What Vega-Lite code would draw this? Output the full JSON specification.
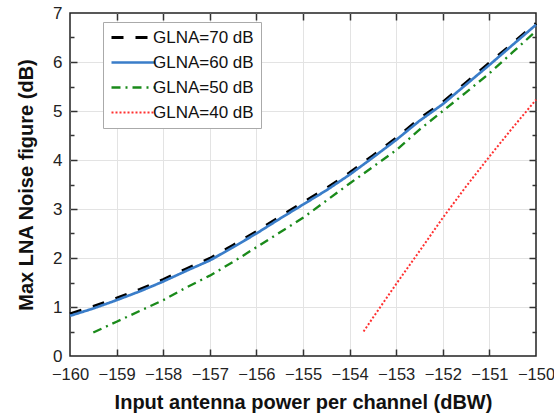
{
  "$schema": "https://vega.github.io/schema/vega-lite/v6.json",
  "width": 466,
  "height": 343,
  "autosize": "none",
  "padding": {"left": 70, "top": 13, "right": 18, "bottom": 61},
  "config": {
    "font": "Liberation Sans",
    "view": {"stroke": "#222", "strokeWidth": 1.5},
    "axis": {
      "labelFont": "Liberation Sans",
      "labelFontSize": 17,
      "labelColor": "#222",
      "titleFont": "Liberation Sans",
      "titleFontSize": 20,
      "titleFontWeight": "bold",
      "titleColor": "#111",
      "gridColor": "#e3e3e3",
      "gridWidth": 1,
      "tickColor": "#333",
      "tickWidth": 1.5,
      "domain": false,
      "grid": false
    },
    "legend": {
      "orient": "none",
      "legendX": 33,
      "legendY": 9,
      "symbolType": "M-4.4,0H4.4",
      "symbolSize": 100,
      "symbolOffset": 15,
      "symbolStrokeWidth": 2.2,
      "labelFont": "Liberation Sans",
      "labelFontSize": 17,
      "labelColor": "#111",
      "strokeColor": "#aaa",
      "fillColor": "white",
      "padding": 7,
      "rowPadding": 7,
      "labelOffset": 11
    }
  },
  "data": {
    "values": [
      {"g": "GLNA=70 dB", "x": -160, "y": 0.86},
      {"g": "GLNA=70 dB", "x": -159.5, "y": 1.01},
      {"g": "GLNA=70 dB", "x": -159, "y": 1.18},
      {"g": "GLNA=70 dB", "x": -158.5, "y": 1.36},
      {"g": "GLNA=70 dB", "x": -158, "y": 1.56},
      {"g": "GLNA=70 dB", "x": -157.5, "y": 1.78},
      {"g": "GLNA=70 dB", "x": -157, "y": 1.99},
      {"g": "GLNA=70 dB", "x": -156.5, "y": 2.26},
      {"g": "GLNA=70 dB", "x": -156, "y": 2.54},
      {"g": "GLNA=70 dB", "x": -155.5, "y": 2.84},
      {"g": "GLNA=70 dB", "x": -155, "y": 3.13},
      {"g": "GLNA=70 dB", "x": -154.5, "y": 3.42},
      {"g": "GLNA=70 dB", "x": -154, "y": 3.74},
      {"g": "GLNA=70 dB", "x": -153.5, "y": 4.09},
      {"g": "GLNA=70 dB", "x": -153, "y": 4.45},
      {"g": "GLNA=70 dB", "x": -152.5, "y": 4.84},
      {"g": "GLNA=70 dB", "x": -152, "y": 5.18},
      {"g": "GLNA=70 dB", "x": -151.5, "y": 5.58},
      {"g": "GLNA=70 dB", "x": -151, "y": 5.98},
      {"g": "GLNA=70 dB", "x": -150.5, "y": 6.38},
      {"g": "GLNA=70 dB", "x": -150, "y": 6.79},
      {"g": "GLNA=60 dB", "x": -160, "y": 0.82},
      {"g": "GLNA=60 dB", "x": -159.5, "y": 0.97},
      {"g": "GLNA=60 dB", "x": -159, "y": 1.14},
      {"g": "GLNA=60 dB", "x": -158.5, "y": 1.32},
      {"g": "GLNA=60 dB", "x": -158, "y": 1.52},
      {"g": "GLNA=60 dB", "x": -157.5, "y": 1.74},
      {"g": "GLNA=60 dB", "x": -157, "y": 1.95},
      {"g": "GLNA=60 dB", "x": -156.5, "y": 2.22},
      {"g": "GLNA=60 dB", "x": -156, "y": 2.5},
      {"g": "GLNA=60 dB", "x": -155.5, "y": 2.8},
      {"g": "GLNA=60 dB", "x": -155, "y": 3.09},
      {"g": "GLNA=60 dB", "x": -154.5, "y": 3.38},
      {"g": "GLNA=60 dB", "x": -154, "y": 3.7},
      {"g": "GLNA=60 dB", "x": -153.5, "y": 4.05},
      {"g": "GLNA=60 dB", "x": -153, "y": 4.41},
      {"g": "GLNA=60 dB", "x": -152.5, "y": 4.8},
      {"g": "GLNA=60 dB", "x": -152, "y": 5.14},
      {"g": "GLNA=60 dB", "x": -151.5, "y": 5.54},
      {"g": "GLNA=60 dB", "x": -151, "y": 5.94},
      {"g": "GLNA=60 dB", "x": -150.5, "y": 6.35},
      {"g": "GLNA=60 dB", "x": -150, "y": 6.76},
      {"g": "GLNA=50 dB", "x": -159.5, "y": 0.48},
      {"g": "GLNA=50 dB", "x": -159, "y": 0.7},
      {"g": "GLNA=50 dB", "x": -158.5, "y": 0.92},
      {"g": "GLNA=50 dB", "x": -158, "y": 1.14},
      {"g": "GLNA=50 dB", "x": -157.5, "y": 1.4},
      {"g": "GLNA=50 dB", "x": -157, "y": 1.64},
      {"g": "GLNA=50 dB", "x": -156.5, "y": 1.92},
      {"g": "GLNA=50 dB", "x": -156, "y": 2.22},
      {"g": "GLNA=50 dB", "x": -155.5, "y": 2.52},
      {"g": "GLNA=50 dB", "x": -155, "y": 2.82},
      {"g": "GLNA=50 dB", "x": -154.5, "y": 3.17},
      {"g": "GLNA=50 dB", "x": -154, "y": 3.52},
      {"g": "GLNA=50 dB", "x": -153.5, "y": 3.86},
      {"g": "GLNA=50 dB", "x": -153, "y": 4.2},
      {"g": "GLNA=50 dB", "x": -152.5, "y": 4.62},
      {"g": "GLNA=50 dB", "x": -152, "y": 5.0},
      {"g": "GLNA=50 dB", "x": -151.5, "y": 5.38},
      {"g": "GLNA=50 dB", "x": -151, "y": 5.77},
      {"g": "GLNA=50 dB", "x": -150.5, "y": 6.2},
      {"g": "GLNA=50 dB", "x": -150, "y": 6.63},
      {"g": "GLNA=40 dB", "x": -153.7, "y": 0.5},
      {"g": "GLNA=40 dB", "x": -153.5, "y": 0.78},
      {"g": "GLNA=40 dB", "x": -153, "y": 1.47},
      {"g": "GLNA=40 dB", "x": -152.5, "y": 2.14},
      {"g": "GLNA=40 dB", "x": -152, "y": 2.82},
      {"g": "GLNA=40 dB", "x": -151.5, "y": 3.46},
      {"g": "GLNA=40 dB", "x": -151, "y": 4.07},
      {"g": "GLNA=40 dB", "x": -150.5, "y": 4.66},
      {"g": "GLNA=40 dB", "x": -150, "y": 5.23}
    ]
  },
  "layer": [
    {
      "mark": {"type": "line", "strokeOpacity": 0},
      "encoding": {
        "x": {
          "field": "x", "type": "quantitative",
          "scale": {"domain": [-160, -150], "nice": false, "zero": false},
          "axis": {"orient": "bottom", "values": [-159, -158, -157, -156, -155, -154, -153, -152, -151], "labels": false, "ticks": false, "grid": true, "title": null}
        },
        "y": {
          "field": "y", "type": "quantitative",
          "scale": {"domain": [0, 7], "nice": false, "zero": false},
          "axis": {"orient": "left", "values": [1, 2, 3, 4, 5, 6], "labels": false, "ticks": false, "grid": true, "title": null}
        },
        "detail": {"field": "g"}
      }
    },
    {
      "mark": {"type": "line"},
      "encoding": {
        "x": {
          "field": "x", "type": "quantitative",
          "scale": {"domain": [-160, -150], "nice": false, "zero": false},
          "axis": {"orient": "bottom", "values": [-160, -159, -158, -157, -156, -155, -154, -153, -152, -151, -150], "title": "Input antenna power per channel (dBW)", "ticks": false, "labelFontSize": 16.5, "labelPadding": 10, "titlePadding": 10, "labelFlush": false}
        },
        "y": {
          "field": "y", "type": "quantitative",
          "scale": {"domain": [0, 7], "nice": false, "zero": false},
          "axis": {"orient": "left", "values": [0, 1, 2, 3, 4, 5, 6, 7], "format": "d", "title": "Max LNA Noise figure (dB)", "ticks": false, "labelPadding": 8, "titlePadding": 16, "labelFlush": false}
        },
        "color": {
          "field": "g", "type": "nominal",
          "scale": {"domain": ["GLNA=70 dB", "GLNA=60 dB", "GLNA=50 dB", "GLNA=40 dB"], "range": ["#000000", "#3a7dc9", "#1a8a1a", "#ff3030"]},
          "legend": {"title": null}
        },
        "strokeDash": {
          "field": "g", "type": "nominal",
          "scale": {"domain": ["GLNA=70 dB", "GLNA=60 dB", "GLNA=50 dB", "GLNA=40 dB"], "range": [[12, 12], [1, 0], [9, 5, 2, 5], [2, 2]]},
          "legend": {"title": null}
        },
        "strokeWidth": {
          "field": "g", "type": "nominal",
          "scale": {"domain": ["GLNA=70 dB", "GLNA=60 dB", "GLNA=50 dB", "GLNA=40 dB"], "range": [3, 2, 2, 2]},
          "legend": null
        }
      }
    },
    {
      "mark": {"type": "line", "strokeOpacity": 0},
      "encoding": {
        "x": {
          "field": "x", "type": "quantitative",
          "scale": {"domain": [-160, -150], "nice": false, "zero": false},
          "axis": {"orient": "top", "values": [-159, -158, -157, -156, -155, -154, -153, -152, -151], "labels": false, "title": null, "offset": -7, "tickSize": 7}
        },
        "y": {
          "field": "y", "type": "quantitative",
          "scale": {"domain": [0, 7], "nice": false, "zero": false},
          "axis": {"orient": "right", "values": [1, 2, 3, 4, 5, 6], "labels": false, "title": null, "offset": -7, "tickSize": 7}
        },
        "detail": {"field": "g"}
      }
    },
    {
      "mark": {"type": "line", "strokeOpacity": 0},
      "encoding": {
        "x": {
          "field": "x", "type": "quantitative",
          "scale": {"domain": [-160, -150], "nice": false, "zero": false},
          "axis": {"orient": "bottom", "values": [-159, -158, -157, -156, -155, -154, -153, -152, -151], "labels": false, "title": null, "offset": -7, "tickSize": 7}
        },
        "y": {
          "field": "y", "type": "quantitative",
          "scale": {"domain": [0, 7], "nice": false, "zero": false},
          "axis": {"orient": "left", "values": [0.5, 1.5, 2.5, 3.5, 4.5, 5.5, 6.5], "labels": false, "title": null, "offset": -4, "tickSize": 4}
        },
        "detail": {"field": "g"}
      }
    },
    {
      "mark": {"type": "line", "strokeOpacity": 0},
      "encoding": {
        "x": {"field": "x", "type": "quantitative", "scale": {"domain": [-160, -150], "nice": false, "zero": false}, "axis": null},
        "y": {
          "field": "y", "type": "quantitative",
          "scale": {"domain": [0, 7], "nice": false, "zero": false},
          "axis": {"orient": "right", "values": [0.5, 1.5, 2.5, 3.5, 4.5, 5.5, 6.5], "labels": false, "title": null, "offset": -4, "tickSize": 4}
        },
        "detail": {"field": "g"}
      }
    },
    {
      "mark": {"type": "line", "strokeOpacity": 0},
      "encoding": {
        "x": {"field": "x", "type": "quantitative", "scale": {"domain": [-160, -150], "nice": false, "zero": false}, "axis": null},
        "y": {
          "field": "y", "type": "quantitative",
          "scale": {"domain": [0, 7], "nice": false, "zero": false},
          "axis": {"orient": "left", "values": [1, 2, 3, 4, 5, 6], "labels": false, "title": null, "offset": -7, "tickSize": 7}
        },
        "detail": {"field": "g"}
      }
    }
  ],
  "resolve": {"axis": {"x": "independent", "y": "independent"}}
}
